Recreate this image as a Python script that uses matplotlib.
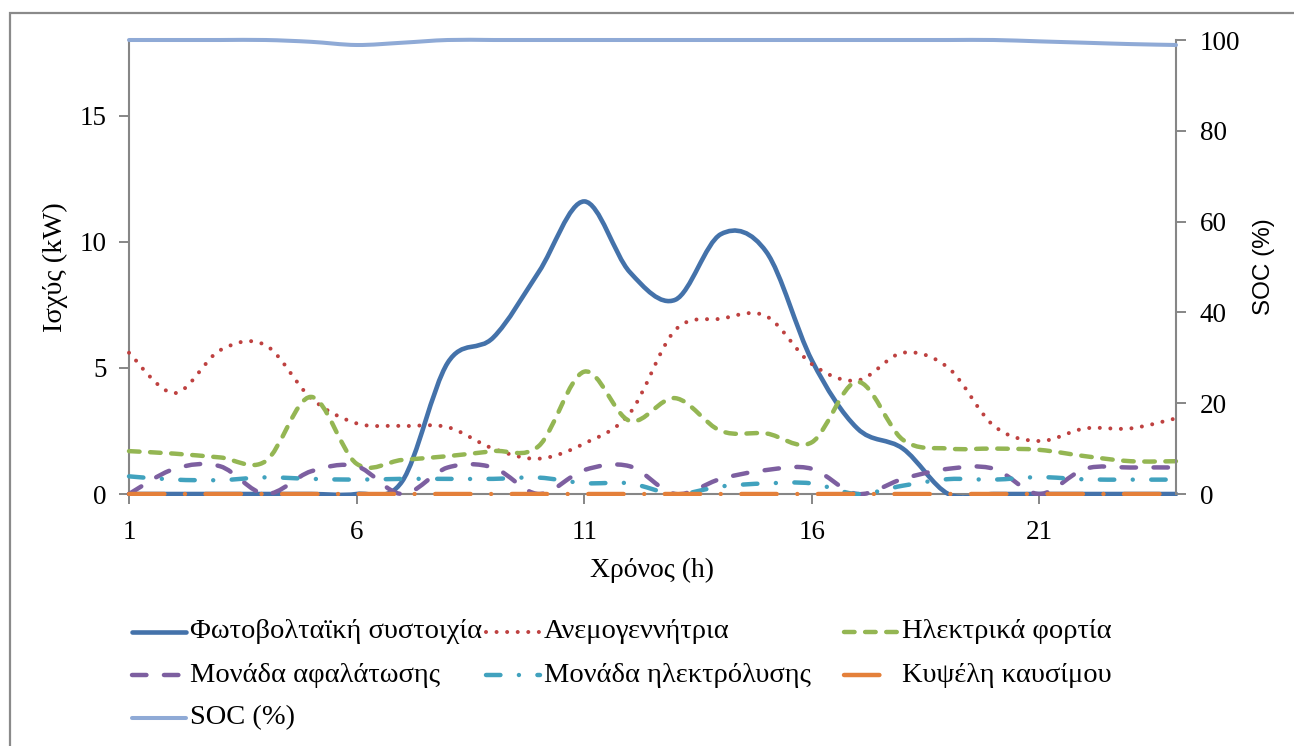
import numpy as np
import matplotlib
matplotlib.use('Agg')
import matplotlib.pyplot as plt
from matplotlib.path import Path
from matplotlib.patches import PathPatch, Rectangle
from matplotlib.lines import Line2D

plt.rcParams['font.family'] = ['Liberation Serif', 'DejaVu Serif']
plt.rcParams['lines.scale_dashes'] = False

# Ώρες
hours = list(range(1, 25))

# Ισχύς (kW) ανά ώρα
pv = [0, 0, 0, 0, 0, 0, 0.5, 5.2, 6.2, 8.8, 11.6, 8.8,
      7.7, 10.3, 9.6, 5.3, 2.6, 1.8, 0, 0, 0, 0, 0, 0]
wind = [5.6, 4.0, 5.7, 5.9, 3.8, 2.8, 2.7, 2.65, 1.8, 1.4, 2.0, 3.2,
        6.5, 6.95, 7.05, 5.15, 4.5, 5.6, 5.0, 2.7, 2.1, 2.6, 2.6, 3.0]
load = [1.7, 1.6, 1.45, 1.3, 3.85, 1.2, 1.35, 1.5, 1.7, 1.9, 4.85, 2.9,
        3.8, 2.5, 2.4, 2.05, 4.45, 2.15, 1.8, 1.8, 1.75, 1.5, 1.3, 1.3]
desal = [0, 1.0, 1.1, 0, 0.9, 1.1, 0, 1.05, 1.05, 0, 0.95, 1.1,
         0, 0.6, 0.95, 1.0, 0, 0.6, 1.0, 1.0, 0, 1.0, 1.05, 1.05]
electro = [0.7, 0.57, 0.55, 0.66, 0.6, 0.57, 0.6, 0.6, 0.6, 0.65, 0.43, 0.42,
           0, 0.3, 0.42, 0.42, 0, 0.33, 0.59, 0.57, 0.67, 0.58, 0.57, 0.57]
fuelcell = [0] * 24

# Κατάσταση φόρτισης (%)
soc = [100, 100, 100, 100, 99.6, 98.9, 99.4, 100, 100, 100, 100, 100,
       100, 100, 100, 100, 100, 100, 100, 100, 99.7, 99.4, 99.1, 98.9]


def smooth_path(x, y):
    # καμπύλες Bezier όπως η "εξομάλυνση" του Excel
    pts = np.column_stack([np.asarray(x, float), np.asarray(y, float)])
    n = len(pts)
    verts = [pts[0]]
    codes = [Path.MOVETO]
    for i in range(n - 1):
        p0 = pts[max(i - 1, 0)]
        p1 = pts[i]
        p2 = pts[i + 1]
        p3 = pts[min(i + 2, n - 1)]
        verts += [p1 + (p2 - p0) / 6, p2 - (p3 - p1) / 6, p2]
        codes += [Path.CURVE4] * 3
    return Path(verts, codes)


# --- στυλ σειρών ---
series = [
    (u'Φωτοβολταϊκή συστοιχία', pv, '#4472AA', 3.3, '-'),
    (u'Ανεμογεννήτρια', wind, '#BE4140', 2.9, (0, (0.01, 7.6))),
    (u'Ηλεκτρικά φορτία', load, '#94B653', 3.2, (0, (7.6, 7.6))),
    (u'Μονάδα αφαλάτωσης', desal, '#7D5FA0', 3.2, (0, (10.4, 12.6))),
    (u'Μονάδα ηλεκτρόλυσης', electro, '#41A2BE', 3.2, (0, (10.4, 13.3, 0.01, 13.3))),
    (u'Κυψέλη καυσίμου', fuelcell, '#E4803A', 3.2, (0, (25.5, 14.8, 0.01, 14.8))),
]
soc_style = (u'SOC (%)', '#8FAAD6', 2.9, '-')

fig = plt.figure(figsize=(12.94, 7.46), dpi=100)
W, H = 1294.0, 746.0

# εξωτερικό πλαίσιο
fig.add_artist(Rectangle((10 / W, -0.1), 1.2, 1 - 13 / H + 0.1, transform=fig.transFigure,
                         fill=False, edgecolor='#8A8A8A', linewidth=1.6))

ax1 = fig.add_axes([129 / W, 1 - 494 / H, (1176 - 129) / W, (494 - 40) / H])
ax2 = ax1.twinx()

# περιοχή αποκοπής: ό,τι πέφτει κάτω από το 0 δεν φαίνεται (όπως στο Excel)
clip = Rectangle((0.8, -0.09), 23.4, 19, transform=ax1.transData)

for name, vals, col, lw, ls in series:
    patch = PathPatch(smooth_path(hours, vals), fill=False, edgecolor=col,
                      linewidth=lw, linestyle=ls, capstyle='round', joinstyle='round',
                      zorder=3)
    ax1.add_patch(patch)
    patch.set_clip_path(clip)

patch = PathPatch(smooth_path(hours, soc), fill=False, edgecolor=soc_style[1],
                  linewidth=soc_style[2], capstyle='round', joinstyle='round',
                  zorder=3, clip_on=False)
ax2.add_patch(patch)

ax1.set_xlim(1, 24)
ax1.set_ylim(0, 18)
ax2.set_ylim(0, 100)
ax1.set_xticks([1, 6, 11, 16, 21])
ax1.set_yticks([0, 5, 10, 15])
ax2.set_yticks([0, 20, 40, 60, 80, 100])

grey = '#868686'
for a in (ax1, ax2):
    a.spines['top'].set_visible(False)
    for s in a.spines.values():
        s.set_color(grey)
        s.set_linewidth(1.5)
    a.tick_params(direction='out', length=7, width=1.4, color=grey,
                  labelsize=19.5, labelcolor='black')
ax1.spines['right'].set_visible(False)
ax2.spines['left'].set_visible(False)
ax2.spines['bottom'].set_visible(False)
ax1.tick_params(axis='x', pad=12)
ax1.tick_params(axis='y', pad=9)
ax2.tick_params(axis='y', pad=10)

ax1.set_ylabel(u'Ισχύς (kW)', fontsize=20.5)
ax2.set_ylabel(u'SOC (%)', fontsize=17.5, family=['Liberation Sans', 'DejaVu Sans'])
ax1.set_xlabel(u'Χρόνος (h)', fontsize=20)
ax1.yaxis.set_label_coords((68 - 129) / 1047, 0.5)
ax2.yaxis.set_label_coords((1253 - 129) / 1047, 0.5)
ax1.xaxis.set_label_coords(0.5, (494 - 558) / 454)

# --- υπόμνημα (χειροκίνητα, 3 στήλες) ---
col_x = [132, 486, 844]
row_y = [632, 675, 718]
entries = [(s[0], s[2], s[3], s[4]) for s in series] + [(soc_style[0], soc_style[1], soc_style[2], soc_style[3])]
for k, (name, col, lw, ls) in enumerate(entries):
    x0 = col_x[k % 3]
    y0 = row_y[k // 3]
    fig.add_artist(Line2D([x0 / W, (x0 + 54) / W], [1 - y0 / H, 1 - y0 / H],
                          transform=fig.transFigure, color=col, linewidth=lw,
                          linestyle=ls, dash_capstyle='round', solid_capstyle='round'))
    fig.text((x0 + 58) / W, 1 - y0 / H, name, fontsize=20.5, va='center', ha='left')

fig.savefig('out.png', dpi=100)
